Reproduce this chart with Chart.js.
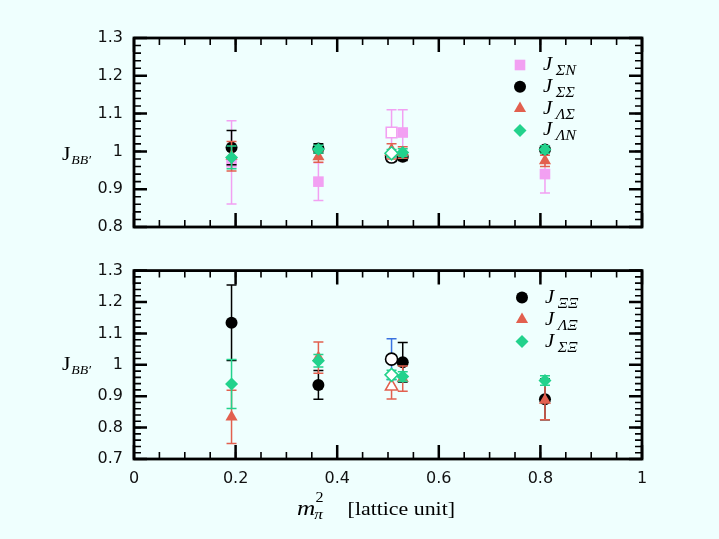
<!DOCTYPE html>
<html><head><meta charset="utf-8">
<script src="https://cdn.jsdelivr.net/npm/chart.js@4/dist/chart.umd.min.js"></script>
<style>
html,body{margin:0;padding:0;background:#effffe;}
#wrap{position:relative;width:719px;height:539px;background:#effffe;overflow:hidden}
canvas{position:absolute;left:0}
#c1{top:0}
#c2{top:250px}
</style></head><body>
<div id="wrap"><canvas id="c1" width="719" height="250"></canvas><canvas id="c2" width="719" height="289"></canvas></div>
<script>
// ---- data ----
const mpi2 = [0.192, 0.363, 0.507, 0.529, 0.809];
const openPoint = [false, false, true, false, false];

// top panel
const J_SN = [0.971, 0.920, 1.050, 1.050, 0.940];
const J_SN_err = [0.110, 0.050, 0.060, 0.060, 0.050];
const J_SS = [1.010, 1.008, 0.985, 0.986, 1.005];
const J_SS_err = [0.045, 0.012, 0.012, 0.010, 0.010];
const J_LS = [0.987, 0.986, 1.000, 0.997, 0.975];
const J_LS_err = [0.039, 0.015, 0.020, 0.015, 0.015];
const J_LN = [0.984, 1.006, 0.995, 0.997, 1.005];
const J_LN_err = [0.030, 0.010, 0.010, 0.010, 0.010];

// bottom panel
const J_XX = [1.134, 0.936, 1.018, 1.008, 0.890];
const J_XX_err = [0.120, 0.046, 0.065, 0.063, 0.065];
const J_LX = [0.834, 1.023, 0.931, 0.956, 0.887];
const J_LX_err = [0.085, 0.050, 0.040, 0.040, 0.062];
const J_SX = [0.939, 1.013, 0.968, 0.963, 0.950];
const J_SX_err = [0.078, 0.020, 0.015, 0.015, 0.015];

const xTicks = [0, 0.2, 0.4, 0.6, 0.8, 1];
const xTickLabels = ['0', '0.2', '0.4', '0.6', '0.8', '1'];
const yTicksTop = [0.8, 0.9, 1, 1.1, 1.2, 1.3];
const yTickLabelsTop = ['0.8', '0.9', '1', '1.1', '1.2', '1.3'];
const yTicksBot = [0.7, 0.8, 0.9, 1, 1.1, 1.2, 1.3];
const yTickLabelsBot = ['0.7', '0.8', '0.9', '1', '1.1', '1.2', '1.3'];

// ---- styling ----
const PINK = '#f2a0f2', BLACK = '#000000', RED = '#e2604f', GREEN = '#22d28c', BLUE = '#3a72e0';
const BG = '#effffe';
const SX = 1.15; // horizontal stretch for math text

function pts(xs, ys) { return xs.map((x, i) => ({ x: x, y: ys[i] })); }

function mkDataset(label, ys, errs, color, style, radius, order, errColors) {
  return {
    label: label, data: pts(mpi2, ys), err: errs, errColors: errColors,
    color: color, order: order, showLine: false,
    pointStyle: style, pointRadius: radius, pointHoverRadius: radius,
    pointBackgroundColor: c => openPoint[c.dataIndex] ? '#ffffff' : color,
    pointBorderColor: color,
    pointBorderWidth: c => openPoint[c.dataIndex] ? 1.6 : 0
  };
}

const errorBarPlugin = {
  id: 'errorBars',
  beforeDatasetDraw(chart, args) {
    const ds = chart.data.datasets[args.index];
    if (!ds.err) return;
    const ctx = chart.ctx, xs = chart.scales.x, ys = chart.scales.y;
    ctx.save();
    ctx.lineWidth = 1.5;
    ds.data.forEach((p, i) => {
      const px = xs.getPixelForValue(p.x);
      const yt = ys.getPixelForValue(p.y + ds.err[i]);
      const yb = ys.getPixelForValue(p.y - ds.err[i]);
      ctx.strokeStyle = (ds.errColors && ds.errColors[i]) || ds.color;
      ctx.beginPath();
      ctx.moveTo(px, yt); ctx.lineTo(px, yb);
      ctx.moveTo(px - 5, yt); ctx.lineTo(px + 5, yt);
      ctx.moveTo(px - 5, yb); ctx.lineTo(px + 5, yb);
      ctx.stroke();
    });
    ctx.restore();
  }
};

function drawMarker(ctx, style, x, y, r, color) {
  ctx.save();
  ctx.fillStyle = color;
  ctx.beginPath();
  if (style === 'rect') {
    const s = Math.SQRT1_2 * r; ctx.rect(x - s, y - s, 2 * s, 2 * s);
  } else if (style === 'triangle') {
    ctx.moveTo(x, y - r);
    ctx.lineTo(x + Math.sin(2 * Math.PI / 3) * r, y + 0.5 * r);
    ctx.lineTo(x - Math.sin(2 * Math.PI / 3) * r, y + 0.5 * r);
    ctx.closePath();
  } else if (style === 'rectRot') {
    ctx.moveTo(x - r, y); ctx.lineTo(x, y - r); ctx.lineTo(x + r, y); ctx.lineTo(x, y + r); ctx.closePath();
  } else {
    ctx.arc(x, y, r, 0, Math.PI * 2);
  }
  ctx.fill();
  ctx.restore();
}

function drawParts(ctx, x, y, parts) {
  ctx.save();
  ctx.fillStyle = '#000';
  ctx.textBaseline = 'alphabetic';
  ctx.textAlign = 'left';
  ctx.translate(x, y);
  ctx.scale(SX, 1);
  parts.forEach(p => {
    ctx.font = p.font;
    ctx.fillText(p.t, p.dx, p.dy || 0);
  });
  ctx.restore();
}

const framePlugin = {
  id: 'frameTicks',
  afterDraw(chart, args, opts) {
    const ctx = chart.ctx, a = chart.chartArea, xs = chart.scales.x, ys = chart.scales.y;
    ctx.save();
    ctx.strokeStyle = '#000';
    ctx.lineCap = 'butt';
    // minor ticks
    ctx.lineWidth = 1.6;
    ctx.beginPath();
    for (let k = 0; k <= Math.round((xs.max - xs.min) / 0.05); k++) {
      const px = xs.getPixelForValue(xs.min + k * 0.05);
      ctx.moveTo(px, a.top); ctx.lineTo(px, a.top + 7);
      ctx.moveTo(px, a.bottom); ctx.lineTo(px, a.bottom - 7);
    }
    for (let k = 0; k <= Math.round((ys.max - ys.min) / 0.02); k++) {
      const py = ys.getPixelForValue(ys.min + k * 0.02);
      ctx.moveTo(a.left, py); ctx.lineTo(a.left + 7, py);
      ctx.moveTo(a.right, py); ctx.lineTo(a.right - 7, py);
    }
    ctx.stroke();
    // major ticks
    ctx.lineWidth = 2.5;
    ctx.beginPath();
    xTicks.forEach(v => {
      const px = xs.getPixelForValue(v);
      ctx.moveTo(px, a.top); ctx.lineTo(px, a.top + 14);
      ctx.moveTo(px, a.bottom); ctx.lineTo(px, a.bottom - 14);
    });
    opts.yMajor.forEach(v => {
      const py = ys.getPixelForValue(v);
      ctx.moveTo(a.left, py); ctx.lineTo(a.left + 13, py);
      ctx.moveTo(a.right, py); ctx.lineTo(a.right - 13, py);
    });
    ctx.stroke();
    // frame
    ctx.lineWidth = 2.8;
    ctx.strokeRect(a.left, a.top, a.right - a.left, a.bottom - a.top);
    ctx.restore();

    // legend
    const L = opts.legend;
    L.items.forEach((it, i) => {
      const yy = a.top + L.y0 + i * L.dy;
      drawMarker(ctx, it.style, a.left + L.mx, yy, it.r, it.color);
      drawParts(ctx, a.left + L.tx, yy + 5, [
        { t: 'J', font: 'italic 18px "Liberation Serif"', dx: 0 },
        { t: it.sub, font: 'italic 14px "Liberation Serif"', dx: 11, dy: 5 }
      ]);
    });
    // y title
    drawParts(ctx, 62, opts.yTitleY, [
      { t: 'J', font: '19px "Liberation Serif"', dx: 0 },
      { t: 'BB\u2032', font: 'italic 12px "Liberation Serif"', dx: 8, dy: 4 }
    ]);
    // x title
    if (opts.xTitle) {
      drawParts(ctx, 297, 265, [
        { t: 'm', font: 'italic 22px "Liberation Serif"', dx: 0 },
        { t: '2', font: '14px "Liberation Serif"', dx: 16, dy: -13 },
        { t: '\u03C0', font: 'italic 15px "Liberation Serif"', dx: 15, dy: 4 },
        { t: '[lattice unit]', font: '19px "Liberation Serif"', dx: 44 }
      ]);
    }
  }
};

function yScale(min, max, ticks, labels) {
  return {
    type: 'linear', min: min, max: max,
    afterBuildTicks: s => { s.ticks = ticks.map(v => ({ value: v })); },
    afterFit: s => { s.width = 134; },
    grid: { display: false, drawTicks: false },
    border: { display: false },
    ticks: {
      padding: 11, color: '#111',
      font: { family: '"DejaVu Sans"', size: 16 },
      callback: (v, i) => labels[i]
    }
  };
}

const common = {
  type: 'scatter',
  plugins: [errorBarPlugin, framePlugin]
};

new Chart(document.getElementById('c1'), {
  ...common,
  data: {
    datasets: [
      mkDataset('ΣN', J_SN, J_SN_err, PINK, 'rect', 7.5, 4),
      mkDataset('ΣΣ', J_SS, J_SS_err, BLACK, 'circle', 6, 3),
      mkDataset('ΛΣ', J_LS, J_LS_err, RED, 'triangle', 7, 2),
      mkDataset('ΛN', J_LN, J_LN_err, GREEN, 'rectRot', 6.5, 1)
    ]
  },
  options: {
    responsive: false, animation: false,
    layout: { padding: { top: 38, right: 77, bottom: 23, left: 0 } },
    scales: {
      x: { type: 'linear', min: 0, max: 1, display: false },
      y: yScale(0.8, 1.3, yTicksTop, yTickLabelsTop)
    },
    plugins: {
      legend: { display: false }, tooltip: { enabled: false },
      frameTicks: {
        yMajor: yTicksTop, yTitleY: 160, xTitle: false,
        legend: { mx: 386, tx: 409, y0: 27, dy: 21.8, items: [
          { style: 'rect', r: 7.5, color: PINK, sub: '\u03A3N' },
          { style: 'circle', r: 6, color: BLACK, sub: '\u03A3\u03A3' },
          { style: 'triangle', r: 7, color: RED, sub: '\u039B\u03A3' },
          { style: 'rectRot', r: 6.5, color: GREEN, sub: '\u039BN' }
        ] }
      }
    }
  }
});

new Chart(document.getElementById('c2'), {
  ...common,
  data: {
    datasets: [
      mkDataset('ΞΞ', J_XX, J_XX_err, BLACK, 'circle', 6, 3, [null, null, BLUE, null, null]),
      mkDataset('ΛΞ', J_LX, J_LX_err, RED, 'triangle', 7, 2),
      mkDataset('ΣΞ', J_SX, J_SX_err, GREEN, 'rectRot', 6.5, 1)
    ]
  },
  options: {
    responsive: false, animation: false,
    layout: { padding: { top: 19, right: 77, bottom: 0, left: 0 } },
    scales: {
      x: {
        type: 'linear', min: 0, max: 1,
        afterBuildTicks: s => { s.ticks = xTicks.map(v => ({ value: v })); },
        afterFit: s => { s.height = 80; },
        grid: { display: false, drawTicks: false },
        border: { display: false },
        ticks: {
          padding: 10, color: '#111', maxRotation: 0,
          font: { family: '"DejaVu Sans"', size: 16 },
          callback: (v, i) => xTickLabels[i]
        }
      },
      y: yScale(0.7, 1.3, yTicksBot, yTickLabelsBot)
    },
    plugins: {
      legend: { display: false }, tooltip: { enabled: false },
      frameTicks: {
        yMajor: yTicksBot, yTitleY: 120, xTitle: true,
        legend: { mx: 388, tx: 411, y0: 27, dy: 22, items: [
          { style: 'circle', r: 6, color: BLACK, sub: '\u039E\u039E' },
          { style: 'triangle', r: 7, color: RED, sub: '\u039B\u039E' },
          { style: 'rectRot', r: 6.5, color: GREEN, sub: '\u03A3\u039E' }
        ] }
      }
    }
  }
});
</script>
</body></html>
